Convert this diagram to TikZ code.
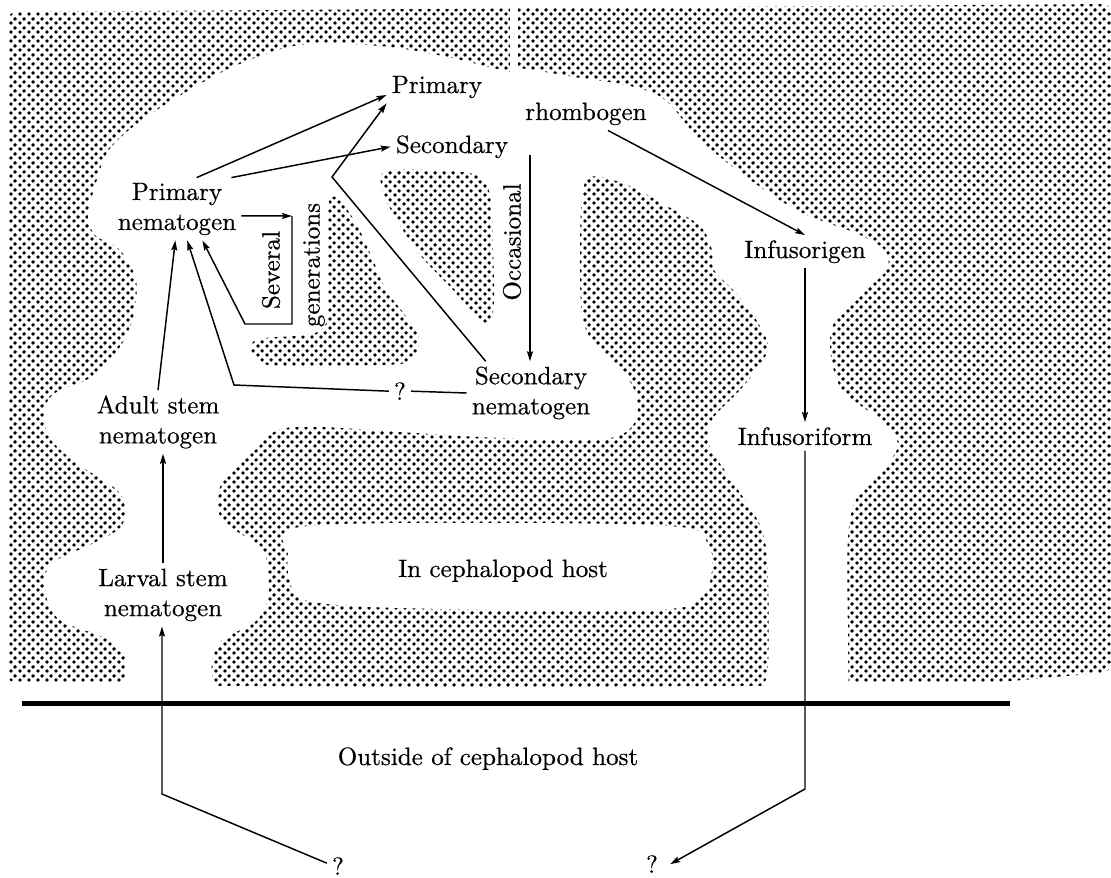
\documentclass[tikz,border=0pt]{standalone}
\usepackage{fontspec}
\usetikzlibrary{patterns.meta,arrows.meta,calc}

% label face: Latin Modern with slightly heavier strokes
\newfontfamily\lblface{lmroman10-regular.otf}[FakeBold=0.5]

% halftone screen: two dots per square tile give a diagonal dot grid
\tikzdeclarepattern{
  name=halftone,
  type=uncolored,
  bottom left={(0pt,0pt)},
  top right={(6.4pt,6.4pt)},
  tile size={(6.4pt,6.4pt)},
  code={
    \pgfpathcircle{\pgfpoint{1.6pt}{1.6pt}}{1.5pt}
    \pgfpathcircle{\pgfpoint{4.8pt}{4.8pt}}{1.5pt}
    \pgfusepath{fill}
  }
}

\begin{document}
\begin{tikzpicture}[x=0.75pt,y=-0.75pt,
  stipple/.style={pattern=halftone, pattern color=black},
  lbl/.style={font=\lblface\fontsize{18.8}{22.5}\selectfont, inner sep=3.75pt},
  lbltwo/.style={lbl, align=center},
  arr/.style={-{Stealth[length=7.5pt,width=4.5pt,inset=1.2pt]}, line width=1.1pt},
  link/.style={line width=1.1pt},
  ]
\useasboundingbox (0,0) rectangle (1111,878);

% ---------- stippled host tissue ----------
\fill[stipple, rounded corners=6pt] (8,683) -- (8,12) -- (1111,4) -- (1111,672) -- (1000,682) -- cycle;
\fill[white] (510,0) rectangle (518,80);

% white channel through the host
\fill[white] plot[smooth cycle, tension=0.55] coordinates {
  (128,730) (126,700) (126,680) (124,655) (105,638) (60,620) (46,595) (50,565)
  (90,545) (120,528) (125,507) (115,488) (75,462) (48,435) (46,405) (60,390)
  (90,378) (118,350) (133,318) (136,280) (120,250) (95,235) (88,215) (94,190)
  (107,153) (133,127) (173,100) (233,67) (300,45) (380,46) (447,57) (510,72)
  (518,68) (580,78) (630,86) (665,100) (700,140) (750,180) (800,212) (860,235)
  (886,252) (885,272) (855,298) (835,320) (830,350) (842,390) (880,420) (898,445)
  (880,472) (858,495) (848,536) (848,640) (849,700) (850,730) (500,745)};

% central tissue block
\fill[stipple] plot[smooth cycle, tension=0.55] coordinates {
  (590,177) (625,184) (665,205) (700,226) (712,250) (714,270) (735,292) (755,318)
  (768,345) (760,365) (740,390) (712,420) (710,447) (735,485) (762,530) (768,580)
  (768,665) (762,684) (740,686) (500,687) (240,686) (216,683) (212,662) (222,640)
  (255,622) (268,600) (268,575) (262,548) (232,528) (218,510) (224,478) (255,450)
  (278,430) (320,427) (400,432) (480,437) (560,440) (615,437) (636,420) (635,392)
  (620,368) (595,345) (582,315) (580,250) (582,200)};

% clear lumen inside the central block
\fill[white] plot[smooth cycle, tension=0.55] coordinates {
  (300,527) (500,523) (680,527) (708,545) (712,570) (700,598) (650,610) (400,608)
  (305,600) (290,580) (288,555)};

% small tissue islands
\fill[stipple] plot[smooth cycle, tension=0.55] coordinates {
  (384,172) (430,170) (476,175) (490,195) (493,250) (494,300) (490,322) (478,318)
  (455,292) (420,255) (398,222) (384,195)};
\fill[stipple] plot[smooth cycle, tension=0.45] coordinates {
  (331,197) (340,200) (357,225) (373,260) (386,290) (405,315) (418,335) (416,355)
  (400,364) (330,366) (268,365) (252,355) (252,343) (265,338) (312,334) (327,320)
  (327,260) (328,210)};

% host boundary
\draw[line width=3.75pt] (22,703) -- (1010,703);

% ---------- labels ----------
\node[lbl, anchor=base] (prim) at (437,93) {Primary};
\node[lbl, anchor=base] (sec) at (452,153) {Secondary};
\node[lbl, anchor=base] (rhomb) at (586,120) {rhombogen};
\node[lbltwo] (pn) at (177,209) {Primary\\nematogen};
\node[lbl, rotate=90] (sev) at (271,270) {Several};
\node[lbl, rotate=90] (gen) at (314,265) {generations};
\node[lbl, rotate=90] (occ) at (512,242) {Occasional};
\node[lbl, anchor=base] (q1) at (400,400) {?};
\node[lbltwo] (secn) at (531,393) {Secondary\\nematogen};
\node[lbltwo] (adult) at (158,422) {Adult stem\\nematogen};
\node[lbltwo] (larval) at (163,595) {Larval stem\\nematogen};
\node[lbl, anchor=base] (infg) at (805,258) {Infusorigen};
\node[lbl, anchor=base] (inff) at (805,445) {Infusoriform};
\node[lbl, anchor=base] (host) at (503,577) {In cephalopod host};
\node[lbl, anchor=base] (out) at (488,765) {Outside of cephalopod host};
\node[lbl, anchor=base] (qL) at (338,875) {?};
\node[lbl, anchor=base] (qR) at (652,873) {?};

% bend points
\coordinate (V) at (332,177);
\coordinate (sevA) at (292,216);
\coordinate (sevB) at (292,324);
\coordinate (sevC) at (245,324);
\coordinate (qA) at (234,385);
\coordinate (occS) at (530,155);
\coordinate (cL) at (162,794);
\coordinate (cR) at (805,789);

% ---------- connectors ----------
\draw[arr] (pn.58) -- (prim.189);
\draw[arr] (pn.30) -- (sec.west);
\draw[arr] (secn.145) -- (V) -- (prim.south west);
\draw[arr] (pn.-6) -- (sevA);
\draw[arr] (sevA) -- (sevB) -- (sevC) -- (pn.-51);
\draw[arr] (q1.west) -- (qA) -- (pn.-72);
\draw[link] (q1.east) -- (secn.west);
\draw[arr] (adult.north) -- (pn.-93);
\draw[arr] (larval.north) -- (larval.north |- adult.south);
\draw[arr] (occS) -- (occS |- secn.north);
\draw[arr] (rhomb.-37) -- (infg.north);
\draw[arr] (infg.south) -- (inff.north);
\draw[arr] (inff.south) -- (cR) -- ($(qR.east)+(7,0)$);
\draw[arr] (qL.165) -- (cL) -- (cL |- larval.south);
\end{tikzpicture}
\end{document}
